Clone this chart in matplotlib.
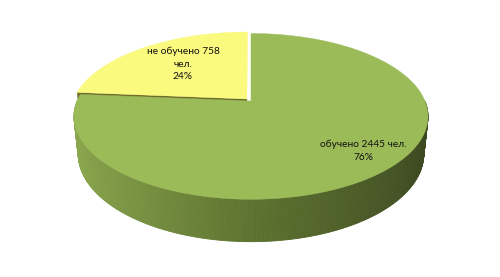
import numpy as np
import matplotlib
matplotlib.use("Agg")
import matplotlib.pyplot as plt
from matplotlib.patches import Polygon

# ---- data ----
categories = ["обучено", "не обучено"]
values = [2445, 758]
unit = "чел."
colors_top = ["#9BBB59", "#FAFA7E"]

# ---- 3D perspective pie geometry (layout) ----
phi = np.radians(27.4)
cphi, sphi = np.cos(phi), np.sin(phi)
D = 4.78
S = 177 * np.sqrt(D**2 - cphi**2)
CX, CY = 251, 101
H = 0.245


def proj(X, Y, Z):
    depth = D + Y * cphi - Z * sphi
    px = CX + S * X / depth
    py = CY - S * (Y * sphi + Z * cphi) / depth
    return px, py


def lerp_color(c1, c2, t):
    c1 = np.array(matplotlib.colors.to_rgb(c1))
    c2 = np.array(matplotlib.colors.to_rgb(c2))
    return tuple(c1 + (c2 - c1) * t)


fig = plt.figure(figsize=(5.0, 2.77), dpi=100)
ax = fig.add_axes([0, 0, 1, 1])
ax.set_xlim(0, 500)
ax.set_ylim(277, 0)
ax.axis("off")

total = sum(values)
fracs = [v / total for v in values]
start = 90.0
spans = [f * 360 for f in fracs]
green_rng = (start + spans[1], start + 360)
yellow_rng = (start, start + spans[1])
explode = [0.0, 0.035]
ranges = [green_rng, yellow_rng]


def slice_top(rng, off, z=0.0, n=200):
    t = np.radians(np.linspace(rng[0], rng[1], n))
    X = np.concatenate([[off[0]], off[0] + np.cos(t), [off[0]]])
    Y = np.concatenate([[off[1]], off[1] + np.sin(t), [off[1]]])
    px, py = proj(X, Y, np.full_like(X, z))
    return np.column_stack([px, py])


def draw_slice(i, side_fn, radial_col):
    rng = ranges[i]
    mid = np.radians((rng[0] + rng[1]) / 2)
    off = (explode[i] * np.cos(mid), explode[i] * np.sin(mid))
    a0, a1 = np.radians(rng[0]), np.radians(rng[1])
    for a, ny in ((a0, -np.cos(a0)), (a1, np.cos(a1))):
        if ny < -1e-6:
            pts = [proj(off[0], off[1], 0), proj(off[0] + np.cos(a), off[1] + np.sin(a), 0),
                   proj(off[0] + np.cos(a), off[1] + np.sin(a), -H), proj(off[0], off[1], -H)]
            ax.add_patch(Polygon(pts, closed=True, facecolor=radial_col, edgecolor=radial_col, lw=0.3))
    angs = np.linspace(rng[0], rng[1], 400)
    for b0, b1 in zip(angs[:-1], angs[1:]):
        am = np.radians((b0 + b1) / 2)
        if np.sin(am) >= 0:
            continue
        r0, r1 = np.radians(b0), np.radians(b1)
        pts = [proj(off[0] + np.cos(r0), off[1] + np.sin(r0), 0),
               proj(off[0] + np.cos(r1), off[1] + np.sin(r1), 0),
               proj(off[0] + np.cos(r1), off[1] + np.sin(r1), -H),
               proj(off[0] + np.cos(r0), off[1] + np.sin(r0), -H)]
        col = side_fn(np.cos(am))
        ax.add_patch(Polygon(pts, closed=True, facecolor=col, edgecolor=col, lw=0.6))
    ax.add_patch(Polygon(slice_top(rng, off), closed=True, facecolor=colors_top[i],
                         edgecolor=colors_top[i], lw=0.3))
    return off


def green_side(cx):
    t = (cx + 1) / 2
    if t < 0.5:
        return lerp_color("#8DAA50", "#5E7330", t / 0.5)
    return lerp_color("#5E7330", "#3C4821", (t - 0.5) / 0.5)


def yellow_side(cx):
    return "#B8B65A"


draw_slice(1, yellow_side, "#6F6D2C")
draw_slice(0, green_side, "#5A6E2E")

# ---- labels ----
pcts = [round(f * 100) for f in fracs]
lab_g = f"{categories[0]} {values[0]} {unit}\n{pcts[0]}%"
lab_y = f"{categories[1]} {values[1]}\n{unit}\n{pcts[1]}%"
ax.text(363, 151, lab_g, ha="center", va="center", fontsize=7.3, family="Lato",
        color="#111111", linespacing=1.5)
ax.text(183, 64, lab_y, ha="center", va="center", fontsize=7.3, family="Lato",
        color="#111111", linespacing=1.5)

fig.savefig("out.png", dpi=100, facecolor="white")
